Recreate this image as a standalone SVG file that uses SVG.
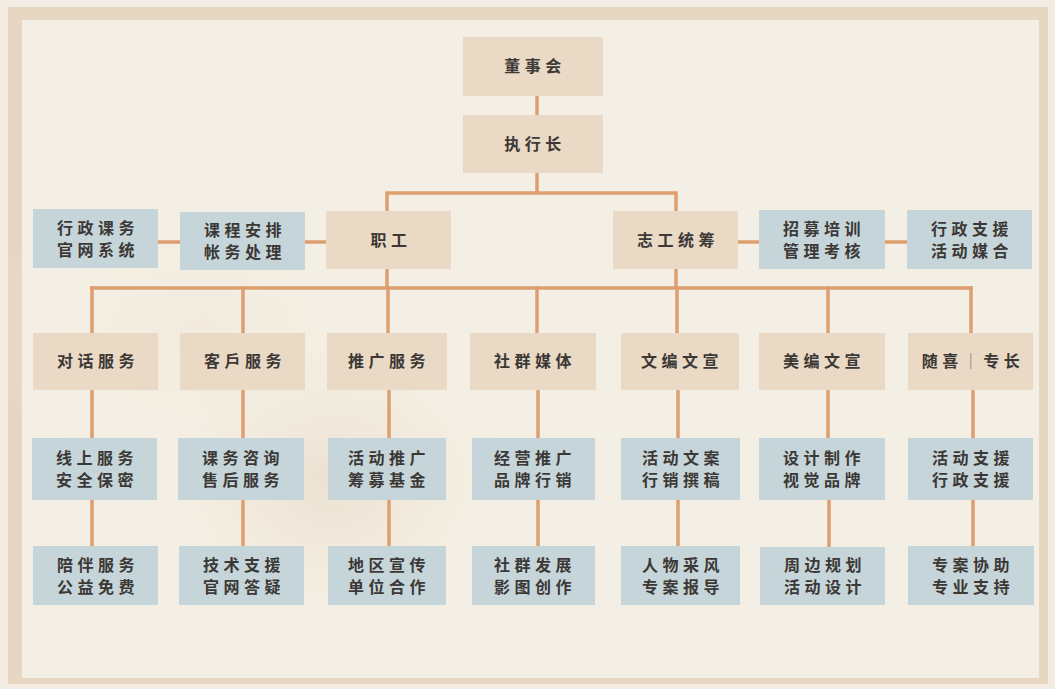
<svg xmlns="http://www.w3.org/2000/svg" width="1055" height="689" viewBox="0 0 1055 689">
<defs>
<style>
.bg{fill:#f3ece3}
.band{fill:#e7d6c1}
.panel{fill:#f4efe4}
.b{fill:#e9d9c5}
.g{fill:#c5d5d9}
.t{font-family:"Noto Sans CJK SC","Noto Sans CJK TC",sans-serif;font-size:16px;font-weight:700;fill:#3c3835;letter-spacing:4.5px;text-anchor:middle}
.c{stroke:#de9f70;stroke-width:3.5;fill:none;stroke-linecap:square}
</style>
<radialGradient id="flower" cx="0.5" cy="0.5" r="0.5">
<stop offset="0" stop-color="#e6d6c3" stop-opacity="0.55"/>
<stop offset="0.6" stop-color="#ecdfcf" stop-opacity="0.25"/>
<stop offset="1" stop-color="#f4efe4" stop-opacity="0"/>
</radialGradient>
<radialGradient id="wash" cx="0.5" cy="0.5" r="0.5">
<stop offset="0" stop-color="#f0e5d7" stop-opacity="0.5"/>
<stop offset="1" stop-color="#f4efe4" stop-opacity="0"/>
</radialGradient>
</defs>
<rect class="bg" x="0" y="0" width="1055" height="689"/>
<rect class="band" x="8" y="7" width="1040" height="677"/>
<rect class="panel" x="22" y="20" width="1017" height="658"/>
<ellipse cx="330" cy="480" rx="180" ry="150" fill="url(#flower)"/>
<ellipse cx="200" cy="330" rx="220" ry="160" fill="url(#wash)"/>

<g id="connectors">
<path class="c" d="M537 96 V115"/>
<path class="c" d="M537 173 V193 M387 193 H676 M387 193 V211 M676 193 V211"/>
<path class="c" d="M158 242 H180 M305 242 H326 M738 242 H759 M885 242 H907"/>
<path class="c" d="M387 269 V288 M676 269 V288 M92 288 H971"/>
<path class="c" d="M92 288 V333 M243 288 V333 M388 288 V333 M537 288 V333 M677 288 V333 M828 288 V333 M971 288 V333"/>
<path class="c" d="M92 390 V438 M243 390 V438 M389 390 V438 M538 390 V438 M678 390 V438 M828 390 V438 M973 390 V438"/>
<path class="c" d="M92 500 V546 M243 500 V546 M389 500 V546 M538 500 V546 M678 500 V546 M829 500 V546 M973 500 V546"/>
</g>

<g id="n-board"><rect class="b" x="463" y="37" width="140" height="59"/><text class="t" x="535" y="72">董事会</text></g>
<g id="n-ceo"><rect class="b" x="463" y="115" width="140" height="58"/><text class="t" x="535" y="150">执行长</text></g>
<g id="n-staff"><rect class="b" x="326" y="211" width="125" height="58"/><text class="t" x="391" y="246">职工</text></g>
<g id="n-vol"><rect class="b" x="613" y="211" width="125" height="58"/><text class="t" x="678" y="246">志工统筹</text></g>
<g id="n-recruit"><rect class="g" x="759" y="210" width="126" height="59"/><text class="t" x="824"><tspan x="824" y="235">招募培训</tspan><tspan x="824" y="257">管理考核</tspan></text></g>
<g id="n-admsup"><rect class="g" x="907" y="210" width="125" height="59"/><text class="t" x="972"><tspan x="972" y="235">行政支援</tspan><tspan x="972" y="257">活动媒合</tspan></text></g>
<g id="n-course"><rect class="g" x="180" y="212" width="125" height="58"/><text class="t" x="245"><tspan x="245" y="236">课程安排</tspan><tspan x="245" y="258">帐务处理</tspan></text></g>
<g id="n-admin"><rect class="g" x="33" y="209" width="125" height="59"/><text class="t" x="98"><tspan x="98" y="234">行政课务</tspan><tspan x="98" y="256">官网系统</tspan></text></g>

<g id="n-dialog"><rect class="b" x="33" y="333" width="125" height="57"/><text class="t" x="98" y="367">对话服务</text></g>
<g id="n-client"><rect class="b" x="180" y="333" width="125" height="57"/><text class="t" x="245" y="367">客戶服务</text></g>
<g id="n-promo"><rect class="b" x="327" y="333" width="120" height="57"/><text class="t" x="389" y="367">推广服务</text></g>
<g id="n-social"><rect class="b" x="470" y="333" width="126" height="57"/><text class="t" x="535" y="367">社群媒体</text></g>
<g id="n-copy"><rect class="b" x="621" y="333" width="118" height="57"/><text class="t" x="682" y="367">文编文宣</text></g>
<g id="n-art"><rect class="b" x="759" y="333" width="126" height="57"/><text class="t" x="824" y="367">美编文宣</text></g>
<g id="n-free"><rect class="b" x="908" y="333" width="125" height="57"/><text class="t" x="973" y="367">随喜<tspan fill="#7a7570" font-weight="400">｜</tspan>专长</text></g>

<g id="n-r3-1"><rect class="g" x="32" y="438" width="125" height="62"/><text class="t"><tspan x="97" y="464">线上服务</tspan><tspan x="97" y="486">安全保密</tspan></text></g>
<g id="n-r3-2"><rect class="g" x="178" y="438" width="126" height="62"/><text class="t"><tspan x="243" y="464">课务咨询</tspan><tspan x="243" y="486">售后服务</tspan></text></g>
<g id="n-r3-3"><rect class="g" x="328" y="438" width="118" height="62"/><text class="t"><tspan x="389" y="464">活动推广</tspan><tspan x="389" y="486">筹募基金</tspan></text></g>
<g id="n-r3-4"><rect class="g" x="472" y="438" width="123" height="62"/><text class="t"><tspan x="535" y="464">经营推广</tspan><tspan x="535" y="486">品牌行销</tspan></text></g>
<g id="n-r3-5"><rect class="g" x="621" y="438" width="119" height="62"/><text class="t"><tspan x="683" y="464">活动文案</tspan><tspan x="683" y="486">行销撰稿</tspan></text></g>
<g id="n-r3-6"><rect class="g" x="759" y="438" width="126" height="62"/><text class="t"><tspan x="824" y="464">设计制作</tspan><tspan x="824" y="486">视觉品牌</tspan></text></g>
<g id="n-r3-7"><rect class="g" x="908" y="438" width="125" height="62"/><text class="t"><tspan x="973" y="464">活动支援</tspan><tspan x="973" y="486">行政支援</tspan></text></g>

<g id="n-r4-1"><rect class="g" x="33" y="546" width="125" height="59"/><text class="t"><tspan x="98" y="571">陪伴服务</tspan><tspan x="98" y="593">公益免费</tspan></text></g>
<g id="n-r4-2"><rect class="g" x="179" y="546" width="125" height="59"/><text class="t"><tspan x="244" y="571">技术支援</tspan><tspan x="244" y="593">官网答疑</tspan></text></g>
<g id="n-r4-3"><rect class="g" x="328" y="546" width="118" height="59"/><text class="t"><tspan x="389" y="571">地区宣传</tspan><tspan x="389" y="593">单位合作</tspan></text></g>
<g id="n-r4-4"><rect class="g" x="472" y="546" width="123" height="59"/><text class="t"><tspan x="535" y="571">社群发展</tspan><tspan x="535" y="593">影图创作</tspan></text></g>
<g id="n-r4-5"><rect class="g" x="621" y="546" width="119" height="59"/><text class="t"><tspan x="683" y="571">人物采风</tspan><tspan x="683" y="593">专案报导</tspan></text></g>
<g id="n-r4-6"><rect class="g" x="760" y="547" width="125" height="58"/><text class="t"><tspan x="825" y="571">周边规划</tspan><tspan x="825" y="593">活动设计</tspan></text></g>
<g id="n-r4-7"><rect class="g" x="908" y="546" width="126" height="59"/><text class="t"><tspan x="973" y="571">专案协助</tspan><tspan x="973" y="593">专业支持</tspan></text></g>
</svg>
